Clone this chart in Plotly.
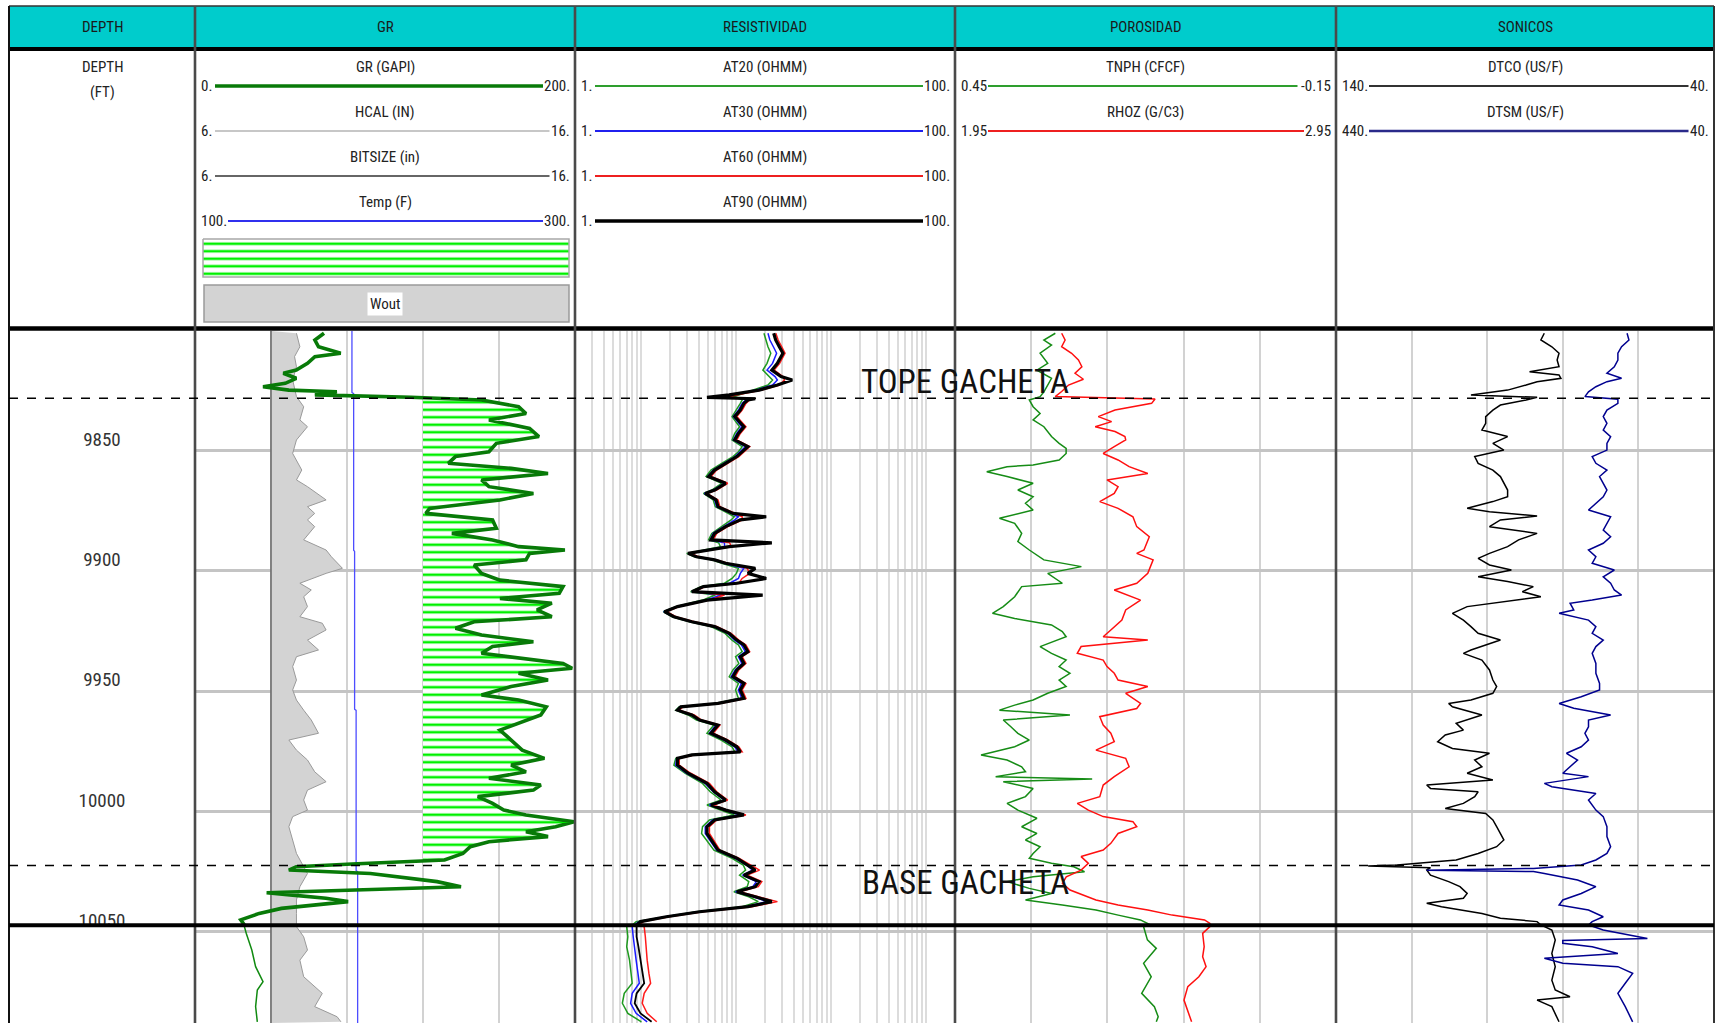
import numpy as np
import plotly.graph_objects as go

# ============================ DATA ============================
DEPTH_TICKS = [9850, 9900, 9950, 10000, 10050]
TOP_DEPTH = 9800.46
BOTTOM_DEPTH = 10087.8
TOPE_DEPTH = 9828.4
BASE_DEPTH = 10022.4
BREAK_DEPTH = 10047.2
GR_CUTOFF = 120.0
FORMATION_NAMES = ["TOPE GACHETA", "BASE GACHETA"]

TRACK_TITLES = ["DEPTH", "GR", "RESISTIVIDAD", "POROSIDAD", "SONICOS"]
GR_CURVES = ["GR (GAPI)", "HCAL (IN)", "BITSIZE (in)", "Temp (F)"]
GR_LEFT = ["0.", "6.", "6.", "100."]
GR_RIGHT = ["200.", "16.", "16.", "300."]
RES_CURVES = ["AT20 (OHMM)", "AT30 (OHMM)", "AT60 (OHMM)", "AT90 (OHMM)"]
RES_LEFT = ["1.", "1.", "1.", "1."]
RES_RIGHT = ["100.", "100.", "100.", "100."]
POR_CURVES = ["TNPH (CFCF)", "RHOZ (G/C3)"]
POR_LEFT = ["0.45", "1.95"]
POR_RIGHT = ["-0.15", "2.95"]
SON_CURVES = ["DTCO (US/F)", "DTSM (US/F)"]
SON_LEFT = ["140.", "440."]
SON_RIGHT = ["40.", "40."]

GR_DEPTH = [9801.4, 9804.2, 9807.0, 9809.7, 9811.1, 9813.9, 9816.7, 9818.0, 9820.1, 9822.2, 9823.6, 9825.0,
            9825.7, 9827.0, 9828.0, 9829.1, 9831.9, 9834.7, 9837.4, 9840.9, 9844.3, 9847.1, 9850.6, 9852.6,
            9855.4, 9857.5, 9859.6, 9862.3, 9865.1, 9867.9, 9870.6, 9874.1, 9876.2, 9878.9, 9882.4, 9884.5,
            9887.2, 9890.0, 9891.4, 9892.8, 9895.5, 9897.6, 9901.1, 9903.9, 9906.6, 9909.4, 9911.5, 9913.5,
            9916.3, 9919.1, 9921.2, 9923.9, 9926.7, 9929.5, 9931.5, 9934.3, 9938.5, 9940.5, 9942.6, 9945.4,
            9948.1, 9951.6, 9953.7, 9956.5, 9959.9, 9963.4, 9966.2, 9970.3, 9974.5, 9977.9, 9980.7, 9983.5,
            9986.2, 9989.0, 9991.1, 9993.8, 9996.6, 9999.4, 10001.4, 10004.2, 10006.3, 10008.4, 10010.4,
            10012.5, 10014.6, 10017.4, 10020.1, 10021.8, 10022.9, 10024.3, 10025.7, 10029.1, 10031.2,
            10032.6, 10033.7, 10034.7, 10036.0, 10037.4, 10038.8, 10040.2, 10042.3, 10045.0, 10047.1,
            10047.8, 10050.6, 10057.5, 10064.4, 10070.6, 10074.1, 10081.0, 10087.3]
GR_VAL = [67.9, 63.1, 65.0, 76.7, 63.1, 59.2, 53.3, 46.5, 53.3, 47.5, 35.8, 49.4,
          74.7, 63.1, 113.7, 150.8, 170.3, 174.2, 154.7, 176.1, 181.0, 158.6, 154.7, 137.1,
          133.3, 166.4, 185.8, 150.8, 154.7, 178.1, 160.5, 123.5, 121.5, 156.6, 158.6, 135.2,
          156.6, 170.3, 194.7, 176.1, 174.2, 146.9, 150.8, 160.5, 193.7, 191.7, 160.5, 187.8,
          180.0, 187.8, 146.9, 137.1, 150.8, 178.1, 156.6, 150.8, 193.7, 198.5, 170.3, 185.8,
          166.4, 150.8, 170.3, 184.9, 182.0, 170.3, 160.5, 166.4, 172.2, 183.9, 166.4, 174.2,
          154.7, 182.0, 178.1, 148.8, 156.6, 162.5, 174.2, 199.5, 189.8, 174.2, 185.8,
          154.7, 144.9, 141.0, 131.3, 82.6, 53.3, 49.4, 92.3, 127.4, 140.0,
          84.5, 37.7, 51.4, 68.9, 80.6, 63.1, 45.5, 33.8, 24.1, 26.0,
          26.0, 27.0, 29.9, 31.9, 35.8, 32.8, 31.9, 32.8]

HCAL_DEPTH = [9801.4, 9807.0, 9811.1, 9815.3, 9820.8, 9827.7, 9831.9, 9837.4, 9840.2, 9845.7, 9851.3, 9854.0,
              9858.2, 9862.3, 9865.1, 9870.6, 9873.4, 9876.2, 9878.9, 9881.7, 9887.2, 9891.4, 9894.2, 9899.0,
              9901.1, 9905.2, 9908.0, 9910.8, 9914.9, 9919.1, 9921.8, 9924.6, 9928.8, 9932.9, 9935.7, 9939.8,
              9945.4, 9949.5, 9953.7, 9957.9, 9962.0, 9967.5, 9970.3, 9974.5, 9978.6, 9983.5, 9987.6, 9991.1,
              9995.2, 9999.4, 10002.1, 10006.3, 10011.8, 10017.4, 10022.9, 10025.7, 10031.2, 10036.7,
              10042.3, 10047.8, 10052.0, 10057.5, 10061.7, 10068.6, 10075.5, 10081.0, 10085.2, 10087.3]
HCAL_VAL = [8.67, 8.76, 8.62, 8.67, 8.57, 8.67, 8.86, 8.76, 8.96, 8.67, 8.57, 8.67,
            8.81, 8.67, 8.96, 9.45, 8.96, 9.15, 8.96, 9.15, 8.86, 9.45, 9.59, 9.88,
            9.45, 8.76, 9.06, 8.86, 8.96, 8.76, 9.35, 9.45, 8.96, 9.25, 8.67, 8.57,
            8.67, 8.57, 8.67, 8.86, 9.06, 9.25, 8.47, 8.67, 8.96, 9.15, 9.45, 8.96,
            8.86, 8.96, 8.57, 8.47, 8.57, 8.67, 8.86, 8.96, 8.76, 8.67,
            8.67, 8.67, 8.86, 8.96, 8.76, 8.86, 9.35, 9.15, 9.74, 9.84]

BIT_DEPTH = [9800.46, 10087.8]
BIT_VAL = [8.0, 8.0]

TEMP_DEPTH = [9800.46, 9826.0, 9826.5, 9891.5, 9892.0, 9957.5, 9958.0, 10024.5, 10025.0, 10087.8]
TEMP_VAL = [182.6, 182.6, 183.5, 183.5, 184.0, 184.0, 184.8, 184.8, 185.6, 185.6]

RES_DEPTH = [9801.4, 9804.2, 9807.0, 9809.7, 9813.9, 9816.7, 9819.4, 9820.8, 9822.9, 9825.0, 9827.0, 9828.0,
             9828.6, 9829.1, 9830.5, 9833.3, 9836.0, 9840.2, 9843.0, 9845.7, 9848.5, 9850.6, 9852.6, 9855.4,
             9858.2, 9860.9, 9863.7, 9866.5, 9867.9, 9870.6, 9873.4, 9876.2, 9877.6, 9878.9, 9881.7, 9884.5,
             9887.2, 9888.4, 9890.0, 9892.8, 9894.2, 9895.5, 9896.9, 9899.0, 9901.1, 9903.2, 9905.2, 9906.6,
             9908.7, 9910.1, 9912.2, 9914.9, 9917.0, 9919.1, 9921.2, 9923.2, 9926.0, 9928.8, 9930.8, 9933.6,
             9935.7, 9938.5, 9941.2, 9944.0, 9946.8, 9949.5, 9953.0, 9955.1, 9956.5, 9957.9, 9959.9, 9962.0,
             9964.1, 9967.5, 9970.3, 9973.1, 9975.2, 9976.5, 9977.9, 9980.7, 9984.1, 9988.3, 9991.8, 9995.2,
             9997.3, 9999.4, 10001.4, 10003.5, 10006.3, 10009.1, 10011.8, 10016.0, 10019.4, 10022.2, 10024.3,
             10026.4, 10029.1, 10031.2, 10033.3, 10035.4, 10037.4, 10039.5, 10041.6, 10043.7, 10045.7, 10047.1,
             10047.8, 10052.0, 10056.1, 10061.7, 10067.2, 10071.3, 10075.5, 10079.6, 10083.8, 10087.3]
AT90_VAL = [24.7, 25.9, 28.3, 30.9, 27.0, 23.6, 29.5, 38.7, 27.0, 17.3, 8.4, 4.9,
            15.8, 13.2, 12.0, 11.0, 9.6, 12.0, 10.5, 9.6, 13.2, 11.5, 10.1, 7.7,
            5.9, 5.1, 7.7, 5.9, 4.7, 6.1, 6.4, 9.2, 20.6, 11.0, 7.7, 5.9,
            5.4, 23.6, 8.4, 3.1, 3.8, 5.9, 7.7, 15.8, 13.2, 20.6, 10.1, 4.5,
            3.4, 18.9, 4.9, 2.4, 1.75, 2.2, 3.4, 5.9, 8.4, 10.1, 12.0, 13.2,
            11.0, 12.0, 10.1, 9.2, 12.0, 11.0, 12.0, 6.4, 2.6, 2.4, 3.4, 4.1,
            6.4, 5.4, 7.7, 10.1, 11.0, 3.4, 2.4, 2.4, 3.1, 4.9, 5.9, 7.7,
            5.4, 7.7, 12.0, 5.9, 4.9, 4.9, 5.4, 6.4, 10.1, 13.2, 15.8,
            12.0, 17.3, 15.8, 10.1, 15.8, 23.6, 13.2, 4.1, 1.83, 0.98, 0.89,
            0.89, 0.89, 0.93, 0.98, 1.02, 1.07, 0.89, 0.85, 0.98, 1.28]
AT20_VAL = [19.5, 20.5, 21.5, 23.0, 21.0, 19.0, 22.0, 24.0, 21.5, 15.0, 10.5, 9.0,
            11.0, 11.5, 11.0, 10.0, 9.0, 10.8, 9.6, 9.0, 11.5, 10.5, 9.2, 7.0,
            5.4, 4.8, 7.0, 5.5, 4.5, 5.7, 6.0, 8.2, 9.5, 8.8, 7.0, 5.5,
            5.1, 6.5, 6.8, 3.0, 3.6, 5.5, 7.0, 10.5, 10.0, 9.0, 7.5, 4.2,
            3.3, 6.0, 4.4, 2.3, 1.7, 2.1, 3.2, 5.4, 7.6, 9.0, 10.5, 11.5,
            9.8, 10.6, 9.2, 8.4, 10.5, 9.8, 10.5, 6.0, 2.5, 2.3, 3.1, 3.8,
            5.8, 4.9, 6.9, 9.0, 9.6, 3.6, 2.3, 2.2, 2.9, 4.4, 5.3, 6.9,
            4.9, 6.8, 9.5, 5.2, 4.4, 4.3, 4.8, 5.8, 9.0, 11.8, 12.5,
            10.8, 13.5, 13.0, 9.4, 13.5, 17.0, 11.5, 3.8, 1.7, 0.88, 0.80,
            0.70, 0.72, 0.70, 0.75, 0.78, 0.80, 0.66, 0.63, 0.72, 1.0]
AT30_VAL = [21.5, 22.5, 24.5, 26.5, 24.0, 21.0, 25.5, 27.0, 24.0, 16.0, 9.5, 7.5,
            12.5, 12.5, 11.5, 10.5, 9.3, 11.4, 10.1, 9.3, 12.4, 11.0, 9.7, 7.4,
            5.7, 5.0, 7.4, 5.7, 4.6, 5.9, 6.2, 8.8, 10.5, 9.6, 7.4, 5.7,
            5.3, 7.5, 7.5, 3.1, 3.7, 5.7, 7.4, 12.0, 11.0, 10.5, 8.5, 4.4,
            3.4, 7.0, 4.7, 2.35, 1.72, 2.15, 3.3, 5.7, 8.1, 9.6, 11.3, 12.4,
            10.5, 11.4, 9.7, 8.8, 11.3, 10.5, 11.4, 6.2, 2.55, 2.35, 3.3, 4.0,
            6.1, 5.2, 7.4, 9.6, 10.4, 3.5, 2.35, 2.3, 3.0, 4.7, 5.7, 7.4,
            5.2, 7.4, 10.8, 5.6, 4.7, 4.7, 5.2, 6.2, 9.7, 12.8, 14.8,
            11.6, 16.2, 14.9, 9.8, 15.0, 21.0, 12.6, 4.0, 1.78, 0.94, 0.84,
            0.80, 0.82, 0.84, 0.88, 0.92, 0.95, 0.80, 0.77, 0.88, 1.15]
AT60_VAL = [26.0, 27.5, 30.0, 32.5, 28.5, 25.0, 31.0, 32.0, 28.5, 18.5, 10.0, 8.0,
            13.5, 13.8, 12.6, 11.5, 10.1, 12.6, 11.0, 10.1, 13.8, 12.0, 10.6, 8.1,
            6.2, 5.4, 8.1, 6.2, 4.9, 6.4, 6.7, 9.7, 11.5, 11.5, 8.1, 6.2,
            5.7, 8.5, 8.8, 3.3, 4.0, 6.2, 8.1, 13.0, 13.8, 11.5, 10.6, 4.7,
            3.6, 7.5, 5.2, 2.5, 1.85, 2.3, 3.6, 6.2, 8.8, 10.6, 12.6, 13.8,
            11.5, 12.6, 10.6, 9.7, 12.6, 11.5, 12.6, 6.7, 2.75, 2.5, 3.6, 4.3,
            6.7, 5.7, 8.1, 10.6, 11.5, 3.6, 2.5, 2.5, 3.3, 5.2, 6.2, 8.1,
            5.7, 8.1, 12.6, 6.2, 5.2, 5.2, 5.7, 6.7, 10.6, 14.0, 17.5,
            13.0, 18.5, 17.0, 10.8, 17.0, 27.0, 14.5, 4.4, 1.95, 1.05, 0.95,
            1.07, 1.10, 1.12, 1.15, 1.20, 1.25, 1.07, 1.02, 1.15, 1.45]

TNPH_DEPTH = [9801.4, 9804.2, 9806.3, 9809.7, 9813.9, 9816.7, 9820.1, 9822.9, 9825.7, 9827.7, 9829.1, 9831.9,
              9834.7, 9837.4, 9840.2, 9844.3, 9847.1, 9849.2, 9851.3, 9854.0, 9856.1, 9856.8, 9858.9, 9860.9,
              9863.7, 9866.5, 9869.3, 9872.0, 9874.8, 9878.2, 9880.3, 9884.5, 9887.9, 9891.4, 9895.5, 9898.3,
              9901.1, 9905.2, 9906.6, 9910.8, 9914.9, 9917.7, 9919.8, 9922.5, 9925.3, 9927.4, 9931.5, 9934.3,
              9937.1, 9939.8, 9942.6, 9945.4, 9948.1, 9950.9, 9953.7, 9955.8, 9957.9, 9959.9, 9962.0, 9964.8,
              9967.5, 9970.3, 9973.1, 9976.5, 9978.6, 9981.4, 9983.5, 9985.5, 9986.5, 9987.6, 9990.4, 9993.8,
              9996.6, 9999.4, 10002.8, 10006.3, 10009.1, 10011.8, 10014.6, 10017.4, 10019.4, 10021.5, 10022.9,
              10025.0, 10027.1, 10029.1, 10031.9, 10034.0, 10036.7, 10038.8, 10040.9, 10043.0, 10045.0, 10047.1,
              10047.8, 10053.3, 10056.8, 10063.0, 10068.6, 10075.5, 10081.0, 10085.2, 10087.3]
TNPH_VAL = [0.292, 0.310, 0.298, 0.316, 0.304, 0.321, 0.298, 0.304, 0.310, 0.316, 0.333, 0.327,
            0.316, 0.327, 0.310, 0.298, 0.286, 0.275, 0.275, 0.286, 0.327, 0.368, 0.400, 0.368,
            0.327, 0.351, 0.327, 0.339, 0.327, 0.380, 0.356, 0.345, 0.351, 0.333, 0.310, 0.251,
            0.304, 0.281, 0.345, 0.356, 0.374, 0.391, 0.356, 0.298, 0.281, 0.275, 0.316, 0.298,
            0.275, 0.286, 0.269, 0.286, 0.275, 0.304, 0.327, 0.356, 0.380, 0.269, 0.374, 0.362,
            0.351, 0.333, 0.356, 0.409, 0.368, 0.345, 0.339, 0.386, 0.234, 0.374, 0.327, 0.339,
            0.368, 0.351, 0.321, 0.345, 0.321, 0.339, 0.316, 0.327, 0.333, 0.298, 0.263,
            0.246, 0.327, 0.368, 0.333, 0.298, 0.339, 0.281, 0.228, 0.193, 0.158, 0.142,
            0.153, 0.147, 0.133, 0.153, 0.141, 0.156, 0.136, 0.130, 0.133]

RHOZ_DEPTH = [9801.4, 9804.2, 9807.0, 9809.7, 9812.5, 9815.3, 9818.0, 9820.5, 9822.9, 9825.6, 9827.7, 9828.7,
              9830.5, 9833.3, 9836.0, 9838.1, 9840.2, 9842.2, 9844.3, 9845.7, 9848.5, 9851.3, 9854.0, 9856.8,
              9859.6, 9862.3, 9865.1, 9867.9, 9871.3, 9874.1, 9877.6, 9881.7, 9885.9, 9891.4, 9892.8, 9895.5,
              9901.1, 9905.2, 9908.0, 9912.2, 9916.3, 9920.5, 9924.6, 9927.4, 9928.8, 9931.5, 9934.3, 9937.1,
              9939.8, 9942.6, 9945.4, 9948.1, 9950.9, 9955.1, 9957.2, 9960.6, 9964.1, 9967.5, 9971.0, 9974.5,
              9977.9, 9981.4, 9985.5, 9989.0, 9993.8, 9996.6, 9999.4, 10002.1, 10004.2, 10006.3, 10009.1,
              10013.2, 10016.0, 10018.7, 10021.5, 10024.3, 10027.1, 10029.8, 10032.6, 10036.7, 10038.8,
              10040.9, 10043.0, 10045.0, 10046.4, 10047.8, 10050.6, 10056.1, 10060.3, 10064.4, 10068.6,
              10072.7, 10078.3, 10082.4, 10087.3]
RHOZ_VAL = [2.230, 2.239, 2.230, 2.256, 2.274, 2.283, 2.265, 2.287, 2.248, 2.230, 2.213, 2.475,
            2.466, 2.370, 2.326, 2.361, 2.318, 2.370, 2.396, 2.398, 2.368, 2.339, 2.378, 2.407,
            2.456, 2.349, 2.378, 2.368, 2.330, 2.378, 2.417, 2.427, 2.460, 2.446, 2.427, 2.470,
            2.456, 2.427, 2.368, 2.437, 2.398, 2.388, 2.359, 2.339, 2.456, 2.281, 2.271, 2.339,
            2.349, 2.368, 2.378, 2.456, 2.398, 2.437, 2.427, 2.330, 2.339, 2.359, 2.368, 2.320,
            2.398, 2.407, 2.368, 2.339, 2.330, 2.271, 2.300, 2.339, 2.417, 2.427, 2.378,
            2.359, 2.339, 2.281, 2.300, 2.281, 2.242, 2.232, 2.252, 2.320, 2.378,
            2.456, 2.520, 2.605, 2.619, 2.619, 2.600, 2.604, 2.600, 2.609, 2.590,
            2.561, 2.551, 2.561, 2.571]

DTCO_DEPTH = [9801.4, 9804.2, 9807.0, 9809.7, 9812.5, 9815.3, 9817.4, 9818.7, 9820.1, 9821.5, 9822.9, 9825.0,
              9827.0, 9828.0, 9829.1, 9831.2, 9833.3, 9836.0, 9838.8, 9841.6, 9844.3, 9847.1, 9849.9, 9852.6,
              9855.4, 9858.2, 9860.9, 9863.7, 9866.5, 9869.3, 9871.3, 9874.1, 9875.5, 9877.3, 9878.9, 9881.7,
              9884.5, 9887.2, 9890.0, 9892.8, 9894.9, 9897.6, 9899.7, 9902.5, 9904.5, 9906.6, 9908.7, 9910.8,
              9912.8, 9914.9, 9917.7, 9920.5, 9923.2, 9926.0, 9928.8, 9930.8, 9932.9, 9934.3, 9937.1, 9941.2,
              9945.4, 9948.1, 9950.9, 9953.7, 9955.1, 9956.5, 9959.9, 9963.4, 9966.2, 9968.2, 9971.0, 9973.8,
              9975.8, 9978.6, 9981.4, 9984.1, 9986.9, 9989.0, 9990.4, 9991.8, 9993.8, 9996.6, 9998.7, 10000.8,
              10003.5, 10006.3, 10009.1, 10011.8, 10014.6, 10017.4, 10020.1, 10022.2, 10022.6, 10023.3,
              10024.3, 10026.4, 10029.1, 10031.2, 10034.0, 10036.0, 10038.1, 10039.5, 10042.3, 10044.3,
              10045.7, 10047.1, 10049.2, 10053.3, 10058.9, 10064.4, 10070.0, 10074.1, 10076.9, 10078.3,
              10081.0, 10083.8, 10087.3]
DTCO_VAL = [84.9, 85.8, 82.9, 81.0, 81.5, 81.0, 88.8, 81.0, 80.5, 86.8, 89.7, 94.6,
            104.3, 86.8, 89.7, 96.5, 98.5, 100.4, 100.4, 101.4, 94.6, 98.5, 95.6, 103.3,
            102.4, 98.5, 96.5, 95.6, 94.6, 94.6, 98.5, 105.3, 99.4, 86.8, 96.5, 99.4,
            86.8, 91.7, 94.6, 99.4, 102.4, 99.4, 93.6, 102.4, 94.6, 87.8, 90.7, 85.8,
            95.6, 105.3, 109.2, 106.3, 104.3, 102.4, 96.5, 100.4, 104.3, 106.3, 101.4, 99.4,
            98.5, 97.5, 98.5, 104.3, 110.2, 109.2, 101.4, 108.2, 106.3, 111.1, 113.1, 109.2,
            99.4, 103.3, 101.4, 105.3, 98.5, 116.0, 115.0, 102.4, 103.3, 106.3, 111.1, 100.4,
            98.5, 97.5, 96.5, 95.6, 97.5, 102.4, 108.2, 123.8, 131.5, 115.0,
            116.0, 115.0, 110.2, 107.2, 105.3, 106.3, 116.0, 112.1, 101.4, 96.5,
            86.8, 85.8, 82.9, 82.0, 82.9, 82.0, 82.9, 82.0, 78.1, 86.8,
            82.9, 82.0, 81.0]

DTSM_DEPTH = [9801.4, 9804.2, 9807.0, 9809.7, 9812.5, 9815.3, 9818.0, 9820.1, 9821.5, 9823.6, 9825.7, 9827.7,
              9828.8, 9830.5, 9833.3, 9836.0, 9838.8, 9841.6, 9844.3, 9847.1, 9849.9, 9852.6, 9855.4, 9858.2,
              9860.9, 9863.7, 9866.5, 9869.3, 9872.0, 9874.8, 9877.6, 9880.3, 9883.1, 9885.9, 9888.6, 9891.4,
              9894.2, 9896.9, 9899.7, 9902.5, 9905.2, 9908.0, 9910.1, 9912.2, 9913.5, 9916.3, 9917.7, 9920.5,
              9923.2, 9926.0, 9928.8, 9931.5, 9934.3, 9938.5, 9942.6, 9946.8, 9949.5, 9952.3, 9955.1, 9957.1,
              9959.9, 9962.0, 9964.8, 9967.5, 9970.3, 9973.1, 9975.8, 9978.6, 9981.4, 9984.1, 9985.5, 9988.3,
              9989.7, 9992.5, 9995.2, 9999.4, 10002.1, 10006.3, 10010.4, 10014.6, 10017.4, 10020.1, 10022.2,
              10023.6, 10024.4, 10024.9, 10025.7, 10028.4, 10031.2, 10034.0, 10036.7, 10038.8, 10040.9,
              10043.7, 10045.7, 10047.1, 10049.2, 10052.7, 10053.5, 10054.7, 10056.1, 10058.9, 10060.9,
              10063.0, 10064.4, 10067.2, 10071.3, 10075.5, 10081.0, 10087.3]
DTSM_VAL = [132.0, 130.0, 137.8, 141.7, 141.7, 145.5, 153.3, 137.8, 153.3, 165.0, 172.8, 176.6,
            141.7, 141.7, 153.3, 157.2, 153.3, 157.2, 149.4, 153.3, 153.3, 168.9, 165.0, 153.3,
            161.1, 157.2, 153.3, 157.2, 165.0, 172.8, 149.4, 153.3, 157.2, 149.4, 157.2, 172.8,
            165.0, 168.9, 145.5, 157.2, 149.4, 145.5, 137.8, 168.9, 192.3, 188.4, 203.9, 172.8,
            165.0, 168.9, 157.2, 165.0, 168.9, 165.0, 165.0, 161.1, 161.1, 180.5, 203.9, 188.4,
            149.4, 172.8, 172.8, 176.6, 172.8, 180.5, 196.1, 184.4, 192.3, 200.0, 172.8, 219.5,
            211.6, 165.0, 172.8, 165.0, 157.2, 153.3, 153.3, 149.4, 153.3, 165.0, 180.5,
            231.1, 344.0, 231.0, 219.5, 184.4, 165.0, 180.5, 200.0, 203.9, 172.8,
            157.2, 168.9, 172.8, 157.2, 110.5, 200.0, 200.0, 168.9, 141.7, 219.5,
            200.0, 141.7, 126.1, 133.9, 141.7, 133.9, 126.1]

# ============================ LAYOUT (pixels) ============================
W, H = 1717, 1023
X_LEFT, X_RIGHT = 9, 1714
TRACK_EDGES = [9, 195, 575, 955, 1336, 1714]
Y_HDR_TOP, Y_CYAN_BOT, Y_CYAN_LINE, Y_HDR_LINE, Y_DATA_TOP = 6, 47, 49, 328.5, 331
FONT = "Liberation Sans Narrow, Arial Narrow, Roboto Condensed, DejaVu Sans Condensed, Liberation Sans, sans-serif"


def fx(x):
    return x / W


Y_DOM_TOP = 1 - Y_DATA_TOP / H

fig = go.Figure()
annotations = []
shapes = []


def ann(x, y, text, size=16, xanchor="center", yanchor="middle", color="#222222", xref="x10", yref="y10", **kw):
    annotations.append(dict(x=x, y=y, xref=xref, yref=yref, text=text, showarrow=False,
                            xanchor=xanchor, yanchor=yanchor,
                            font=dict(family=FONT, size=size, color=color), **kw))


def hline(y, x0, x1, color, width, dash=None, xref="x10", yref="y10"):
    shapes.append(dict(type="line", x0=x0, x1=x1, y0=y, y1=y, xref=xref, yref=yref,
                       line=dict(color=color, width=width, dash=dash), layer="above"))


def vline(x, y0, y1, color, width):
    shapes.append(dict(type="line", x0=x, x1=x, y0=y0, y1=y1, xref="x10", yref="y10",
                       line=dict(color=color, width=width), layer="above"))


PATTERN = dict(shape="-", fgcolor="#00f000", bgcolor="white", size=7.5, solidity=0.34, fillmode="replace")

# ---------------- GR track ----------------
# base axis x2 = HCAL / BITSIZE, overlay x3 = Temp, overlay x4 = GR
fig.add_trace(go.Scatter(x=BIT_VAL, y=BIT_DEPTH, xaxis="x2", yaxis="y", mode="lines",
                         line=dict(color="#555555", width=1.3)))
fig.add_trace(go.Scatter(x=HCAL_VAL, y=HCAL_DEPTH, xaxis="x2", yaxis="y", mode="lines",
                         line=dict(color="#9a9a9a", width=1), fill="tonextx", fillcolor="#d3d3d3"))
fig.add_trace(go.Scatter(x=TEMP_VAL, y=TEMP_DEPTH, xaxis="x3", yaxis="y", mode="lines",
                         line=dict(color="#4d4dff", width=1.3)))

gd = np.array(GR_DEPTH)
gv = np.array(GR_VAL)
zone = (gd >= TOPE_DEPTH) & (gd <= BASE_DEPTH) & (gv >= GR_CUTOFF)
fig.add_trace(go.Scatter(x=[GR_CUTOFF, GR_CUTOFF], y=[TOPE_DEPTH, BASE_DEPTH], xaxis="x4", yaxis="y",
                         mode="lines", line=dict(width=0, color="rgba(0,0,0,0)")))
fig.add_trace(go.Scatter(x=gv[zone], y=gd[zone], xaxis="x4", yaxis="y", mode="lines",
                         line=dict(width=0, color="rgba(0,0,0,0)"), fill="tonextx", fillcolor="white",
                         fillpattern=PATTERN))
up = gd <= BREAK_DEPTH
fig.add_trace(go.Scatter(x=gv[up], y=gd[up], xaxis="x4", yaxis="y", mode="lines",
                         line=dict(color="#087a08", width=3.6)))
fig.add_trace(go.Scatter(x=gv[~up], y=gd[~up], xaxis="x4", yaxis="y", mode="lines",
                         line=dict(color="#108a10", width=1.5)))

# ---------------- Resistivity track ----------------
rd = np.array(RES_DEPTH)
rup = rd <= BREAK_DEPTH
for vals, col in [(AT20_VAL, "#1f9a1f"), (AT30_VAL, "#1a1aff"), (AT60_VAL, "#ff1a1a")]:
    fig.add_trace(go.Scatter(x=vals, y=RES_DEPTH, xaxis="x5", yaxis="y", mode="lines",
                             line=dict(color=col, width=1.5)))
a90 = np.array(AT90_VAL)
fig.add_trace(go.Scatter(x=a90[rup], y=rd[rup], xaxis="x5", yaxis="y", mode="lines",
                         line=dict(color="#000000", width=3.2)))
fig.add_trace(go.Scatter(x=a90[~rup], y=rd[~rup], xaxis="x5", yaxis="y", mode="lines",
                         line=dict(color="#000000", width=1.8)))

# ---------------- Porosity track ----------------
fig.add_trace(go.Scatter(x=TNPH_VAL, y=TNPH_DEPTH, xaxis="x6", yaxis="y", mode="lines",
                         line=dict(color="#168c16", width=1.5)))
fig.add_trace(go.Scatter(x=RHOZ_VAL, y=RHOZ_DEPTH, xaxis="x7", yaxis="y", mode="lines",
                         line=dict(color="#ff1010", width=1.5)))

# ---------------- Sonic track ----------------
fig.add_trace(go.Scatter(x=DTCO_VAL, y=DTCO_DEPTH, xaxis="x8", yaxis="y", mode="lines",
                         line=dict(color="#000000", width=1.5)))
fig.add_trace(go.Scatter(x=DTSM_VAL, y=DTSM_DEPTH, xaxis="x9", yaxis="y", mode="lines",
                         line=dict(color="#00008f", width=1.5)))

# ---------------- Depth labels ----------------
fig.add_trace(go.Scatter(x=[0.5] * len(DEPTH_TICKS), y=DEPTH_TICKS, xaxis="x", yaxis="y2", mode="text",
                         text=[str(d) for d in DEPTH_TICKS], textposition="top center",
                         textfont=dict(family=FONT, size=19, color="#333333")))

# ---------------- Header pattern swatch (pixel overlay axes) ----------------
gl, gr_ = TRACK_EDGES[1], TRACK_EDGES[2]
sx0, sx1, sy0, sy1 = gl + 8, gr_ - 6, 239, 277
fig.add_trace(go.Scatter(x=[sx0, sx1, sx1, sx0, sx0], y=[sy0, sy0, sy1, sy1, sy0], xaxis="x10", yaxis="y10",
                         mode="lines", line=dict(color="#a8a8a8", width=1.5), fill="toself", fillcolor="white",
                         fillpattern=PATTERN))
for tr in fig.data:
    tr.update(hoverinfo="skip", showlegend=False)

# ============================ HEADER ============================
shapes.append(dict(type="rect", x0=X_LEFT, x1=X_RIGHT, y0=Y_HDR_TOP, y1=Y_CYAN_BOT, xref="x10", yref="y10",
                   fillcolor="#00cccc", line=dict(width=0), layer="below"))
hline(Y_HDR_TOP, X_LEFT, X_RIGHT, "#333333", 1.5)
hline(Y_CYAN_LINE, X_LEFT, X_RIGHT, "#000000", 4)
hline(Y_HDR_LINE, X_LEFT, X_RIGHT, "#000000", 4.5)
for i, title in enumerate(TRACK_TITLES):
    ann((TRACK_EDGES[i] + TRACK_EDGES[i + 1]) / 2, 27, title, size=15, color="#1a1a1a")

ann((TRACK_EDGES[0] + TRACK_EDGES[1]) / 2, 67, "DEPTH", size=15)
ann((TRACK_EDGES[0] + TRACK_EDGES[1]) / 2, 92, "(FT)", size=15)

CW = 6.5  # approx. char width for scale labels
HDR_STYLES = {
    1: [("#087a08", 3.5), ("#b4b4b4", 1.5), ("#333333", 1.5), ("#3030ee", 2)],
    2: [("#2e9e2e", 2), ("#2020ee", 2.2), ("#ee2020", 2), ("#000000", 3.5)],
    3: [("#2e9e2e", 2), ("#ee2020", 2)],
    4: [("#333333", 2), ("#2a2a8a", 2.5)],
}
HDR_TEXT = {1: (GR_CURVES, GR_LEFT, GR_RIGHT), 2: (RES_CURVES, RES_LEFT, RES_RIGHT),
            3: (POR_CURVES, POR_LEFT, POR_RIGHT), 4: (SON_CURVES, SON_LEFT, SON_RIGHT)}
for t, (names, lefts, rights) in HDR_TEXT.items():
    x0, x1 = TRACK_EDGES[t], TRACK_EDGES[t + 1]
    xc = (x0 + x1) / 2
    for i, (nm, lt, rt) in enumerate(zip(names, lefts, rights)):
        yl, yln = 67 + 45 * i, 86 + 45 * i
        ann(xc, yl, nm, size=15)
        ann(x0 + 4, yln, lt, size=15, xanchor="left")
        ann(x1 - 3, yln, rt, size=15, xanchor="right")
        col, w = HDR_STYLES[t][i]
        hline(yln, x0 + 5 + CW * len(lt) + 2, x1 - 4 - CW * len(rt) - 2, col, w)

# Wout box
shapes.append(dict(type="rect", x0=gl + 9, x1=gr_ - 6, y0=285, y1=322, xref="x10", yref="y10",
                   fillcolor="#d3d3d3", line=dict(color="#9a9a9a", width=1.5), layer="above"))
ann((gl + gr_) / 2, 303.5, "Wout", size=15, bgcolor="white", borderpad=2)

# vertical borders
vline(X_LEFT, Y_HDR_TOP, H, "#111111", 2)
vline(X_RIGHT, Y_HDR_TOP, H, "#333333", 2)
for x in TRACK_EDGES[1:-1]:
    vline(x, Y_HDR_TOP, H, "#4a4a4a", 2.6)

# ============================ DATA DECORATIONS ============================
shapes.append(dict(type="rect", x0=fx(X_LEFT + 2), x1=fx(TRACK_EDGES[1] - 2), y0=BREAK_DEPTH, y1=BREAK_DEPTH + 2.6,
                   xref="paper", yref="y", fillcolor="white", line=dict(width=0), layer="above"))
hline(BREAK_DEPTH, fx(X_LEFT), fx(X_RIGHT), "#000000", 4, xref="paper", yref="y")
hline(TOPE_DEPTH, fx(X_LEFT), fx(X_RIGHT), "#000000", 1.6, dash="dash", xref="paper", yref="y")
hline(BASE_DEPTH, fx(X_LEFT), fx(X_RIGHT), "#000000", 1.6, dash="dash", xref="paper", yref="y")

ann(965, TOPE_DEPTH, FORMATION_NAMES[0], size=33, yanchor="bottom", color="#111111", yref="y", yshift=-5)
ann(965, BASE_DEPTH, FORMATION_NAMES[1], size=33, yanchor="top", color="#111111", yref="y", yshift=5)

# ============================ AXES ============================
hidden = dict(showticklabels=False, ticks="", showline=False, zeroline=False, fixedrange=True)
GRID = "#d2d2d2"


def dom(t):
    return [fx(TRACK_EDGES[t]), fx(TRACK_EDGES[t + 1])]


res_grid = [m * 10.0 ** e for e in range(-1, 4) for m in range(1, 10) if 0.2 <= m * 10.0 ** e <= 2000]

fig.update_layout(
    width=W, height=H, margin=dict(l=0, r=0, t=0, b=0),
    paper_bgcolor="white", plot_bgcolor="rgba(0,0,0,0)", showlegend=False,
    font=dict(family=FONT),
    xaxis=dict(domain=dom(0), range=[0, 1], anchor="y2", showgrid=False, **hidden),
    yaxis2=dict(domain=[0, Y_DOM_TOP], range=[BOTTOM_DEPTH, TOP_DEPTH], anchor="x", showgrid=False,
                matches="y", **hidden),
    yaxis=dict(domain=[0, Y_DOM_TOP], range=[BOTTOM_DEPTH, TOP_DEPTH], anchor="x2", tickvals=DEPTH_TICKS,
               showgrid=True, gridcolor="#c4c4c4", gridwidth=2.5, **hidden),
    xaxis2=dict(domain=dom(1), range=[6, 16], anchor="y", tickvals=[8, 10, 12, 14], showgrid=True,
                gridcolor=GRID, gridwidth=2, **hidden),
    xaxis3=dict(range=[100, 300], overlaying="x2", anchor="y", showgrid=False, **hidden),
    xaxis4=dict(range=[0, 200], overlaying="x2", anchor="y", showgrid=False, **hidden),
    xaxis5=dict(domain=dom(2), type="log", range=[np.log10(0.2), np.log10(2000)], anchor="y",
                tickvals=res_grid, showgrid=True, gridcolor="#dcdcdc", gridwidth=1.6, **hidden),
    xaxis6=dict(domain=dom(3), range=[0.45, -0.15], anchor="y", tickvals=[0.33, 0.21, 0.09, -0.03],
                showgrid=True, gridcolor=GRID, gridwidth=2, **hidden),
    xaxis7=dict(range=[1.95, 2.95], overlaying="x6", anchor="y", showgrid=False, **hidden),
    xaxis8=dict(domain=dom(4), range=[140, 40], anchor="y", tickvals=[120, 100, 80, 60],
                showgrid=True, gridcolor=GRID, gridwidth=2, **hidden),
    xaxis9=dict(range=[440, 40], overlaying="x8", anchor="y", showgrid=False, **hidden),
    xaxis10=dict(domain=[0, 1], range=[0, W], anchor="y10", visible=False, fixedrange=True),
    yaxis10=dict(domain=[0, 1], range=[H, 0], anchor="x10", visible=False, fixedrange=True),
    annotations=annotations,
    shapes=shapes,
)

fig.write_html("out.html", config={"displayModeBar": False},
               post_script="document.body.style.margin='0';document.body.style.overflow='hidden';")
